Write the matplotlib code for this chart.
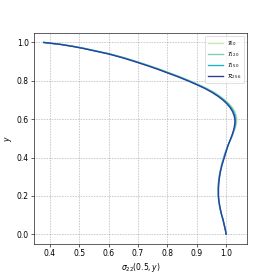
import matplotlib
matplotlib.use("Agg")
import matplotlib.pyplot as plt

# y positions
y = [1.00, 0.99, 0.98, 0.97, 0.96, 0.94, 0.92, 0.90, 0.88, 0.86, 0.84, 0.82, 0.80,
     0.78, 0.76, 0.74, 0.72, 0.70, 0.68, 0.66, 0.64, 0.62, 0.60, 0.58, 0.56, 0.54,
     0.52, 0.50, 0.48, 0.46, 0.44, 0.42, 0.40, 0.38, 0.36, 0.34, 0.32, 0.30, 0.28,
     0.26, 0.24, 0.22, 0.20, 0.18, 0.16, 0.14, 0.12, 0.10, 0.08, 0.06, 0.04, 0.02, 0.00]

# sigma_22(0.5, y) for each solution
r256 = [0.380, 0.435, 0.475, 0.510, 0.540, 0.600, 0.648, 0.690, 0.730, 0.768, 0.803, 0.838, 0.870,
        0.900, 0.928, 0.952, 0.972, 0.989, 1.003, 1.014, 1.022, 1.027, 1.030, 1.030, 1.028, 1.025,
        1.021, 1.016, 1.011, 1.006, 1.002, 0.998, 0.994, 0.990, 0.986, 0.983, 0.980, 0.978, 0.976,
        0.975, 0.974, 0.974, 0.974, 0.975, 0.977, 0.979, 0.982, 0.985, 0.989, 0.992, 0.995, 0.998, 1.000]
t150 = [0.380, 0.437, 0.478, 0.513, 0.543, 0.603, 0.651, 0.693, 0.733, 0.771, 0.806, 0.841, 0.873,
        0.903, 0.931, 0.955, 0.975, 0.992, 1.006, 1.017, 1.025, 1.030, 1.032, 1.032, 1.030, 1.026,
        1.022, 1.017, 1.011, 1.006, 1.001, 0.997, 0.993, 0.989, 0.985, 0.982, 0.979, 0.977, 0.975,
        0.974, 0.974, 0.974, 0.974, 0.975, 0.977, 0.979, 0.982, 0.985, 0.989, 0.992, 0.995, 0.998, 1.000]
t120 = [0.380, 0.439, 0.480, 0.515, 0.545, 0.605, 0.653, 0.695, 0.735, 0.773, 0.808, 0.843, 0.875,
        0.905, 0.933, 0.957, 0.977, 0.994, 1.008, 1.019, 1.027, 1.032, 1.034, 1.033, 1.031, 1.027,
        1.022, 1.017, 1.011, 1.006, 1.001, 0.996, 0.992, 0.988, 0.985, 0.982, 0.979, 0.977, 0.975,
        0.974, 0.973, 0.973, 0.974, 0.975, 0.977, 0.979, 0.982, 0.985, 0.989, 0.992, 0.995, 0.998, 1.000]
t60 = [0.380, 0.441, 0.483, 0.518, 0.548, 0.608, 0.656, 0.698, 0.738, 0.776, 0.811, 0.846, 0.878,
       0.908, 0.936, 0.960, 0.980, 0.997, 1.011, 1.022, 1.030, 1.035, 1.037, 1.036, 1.033, 1.028,
       1.023, 1.017, 1.011, 1.005, 1.000, 0.995, 0.991, 0.987, 0.984, 0.981, 0.978, 0.976, 0.974,
       0.973, 0.972, 0.972, 0.973, 0.974, 0.976, 0.978, 0.981, 0.985, 0.988, 0.992, 0.995, 0.998, 1.000]

labels = [r"$\mathcal{T}_{60}$", r"$\mathcal{T}_{120}$", r"$\mathcal{T}_{150}$", r"$\mathcal{R}_{256}$"]
colors = ["#c7e9b4", "#7fcdbb", "#1fb3c8", "#2c3e9e"]

fig = plt.figure(figsize=(5, 5), dpi=54.8)
ax = fig.add_subplot(111)
for xs, lab, c in zip([t60, t120, t150, r256], labels, colors):
    ax.plot(xs, y, color=c, label=lab, linewidth=1.8)
ax.grid(True, linestyle=":", color="grey", linewidth=0.8)
ax.set_xlabel(r"$\sigma_{22}(0.5, y)$")
ax.set_ylabel(r"$y$")
ax.legend(loc="upper right", fontsize=7.5, handlelength=2.6, labelspacing=0.2)
fig.savefig("out.png", dpi=54.8)
